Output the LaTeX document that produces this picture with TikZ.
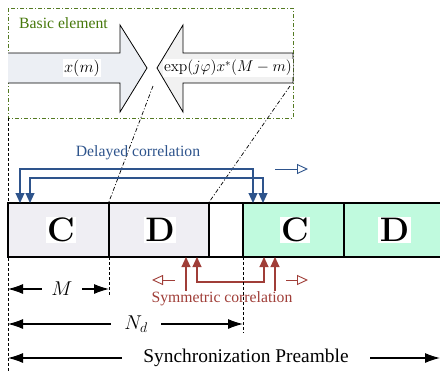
\RequirePackage{fix-cm}
\documentclass[tikz,border=0pt]{standalone}
\usepackage[no-math]{fontspec}
\setmainfont{Liberation Serif}
\usetikzlibrary{arrows.meta}
\definecolor{dblue}{RGB}{46,84,140}
\definecolor{dred}{RGB}{160,62,56}
\definecolor{dgreen}{RGB}{84,122,34}
\definecolor{tgreen}{RGB}{70,120,10}
\definecolor{cfill}{RGB}{239,238,243}
\definecolor{gfill}{RGB}{192,250,222}
\definecolor{afill}{RGB}{236,239,244}
\definecolor{bfill}{RGB}{241,241,241}
\tikzset{
  lbl/.style={font=\fontsize{15.7}{18}\selectfont, inner sep=1pt},
  letter/.style={font=\fontsize{34}{34}\selectfont, fill=white, inner sep=1.5pt},
  dimarrow/.style={line width=1.1pt, {Latex[length=15pt,width=10pt]}-{Latex[length=15pt,width=10pt]}},
  bluearr/.style={dblue, line width=1.1pt, {Triangle[length=10pt,width=9pt]}-{Triangle[length=10pt,width=9pt]}},
  redarr/.style={dred, line width=1.1pt, {Triangle[length=10pt,width=9pt]}-{Triangle[length=10pt,width=9pt]}},
  openarr/.style={line width=0.9pt, -{Triangle[open,length=11pt,width=10pt]}},
  dashdot1/.style={line width=0.7pt, dash pattern=on 4pt off 2pt on 1pt off 2pt},
  vdash/.style={line width=0.7pt, dash pattern=on 3pt off 2pt},
  blk/.style={draw=black, line width=1.1pt}
}
\begin{document}
\begin{tikzpicture}[x=1pt,y=-1pt]
\useasboundingbox (0,0) rectangle (440,375);
% basic element box
\draw[dgreen, dashdot1] (8,8) rectangle (293,118);
\node[lbl, text=tgreen, anchor=west] (be) at (18,23) {Basic element};
% right arrow
\fill[afill] (8,53) -- (120,53) -- (120,25) -- (147,68) -- (120,112) -- (120,83) -- (8,83) -- cycle;
\draw[line width=0.8pt] (8,53) -- (120,53) -- (120,25) -- (147,68) -- (120,112) -- (120,83) -- (8,83);
\node[font=\fontsize{16.5}{18}\selectfont, fill=white, inner sep=1pt] (xm) at (82,68) {$x(m)$};
% left arrow
\draw[line width=0.8pt, fill=bfill] (293,53) -- (183,53) -- (183,25) -- (157,68) -- (183,112) -- (183,83) -- (293,83) -- cycle;
\node[font=\fontsize{15.6}{18}\selectfont, fill=white, inner sep=1pt] (xc) at (228,68) {$\exp(j\varphi)x^{*}(M-m)$};
% blocks
\draw[blk, fill=cfill] (8,203) rectangle (109,257);
\draw[blk, fill=cfill] (109,203) rectangle (209,257);
\draw[blk, fill=white] (209,203) rectangle (243,257);
\draw[blk, fill=gfill] (243,203) rectangle (344,257);
\draw[blk, fill=gfill] (344,203) rectangle (441,257);
\node[letter] (c1) at (61,230) {$\mathbf{C}$};
\node[letter] (d1) at (160,230) {$\mathbf{D}$};
\node[letter] (c2) at (295,230) {$\mathbf{C}$};
\node[letter] (d2) at (394.5,230) {$\mathbf{D}$};
% zoom lines
\coordinate (z1) at (153,86);
\coordinate (z2) at (290,86);
\coordinate (b1) at (108.5,203);
\coordinate (b2) at (208.5,203);
\draw[dashdot1] (z1) -- (b1);
\draw[dashdot1] (z2) -- (b2);
% delayed correlation
\node[lbl, text=dblue] (dc) at (138,153) {Delayed correlation};
\coordinate (da1) at (20,203);
\coordinate (da2) at (253,203);
\coordinate (db1) at (30,203);
\coordinate (db2) at (263,203);
\draw[bluearr] (da1) -- (20,169) -- (253,169) -- (da2);
\draw[bluearr] (db1) -- (30,178) -- (263,178) -- (db2);
\coordinate (bo1) at (275,169);
\coordinate (bo2) at (308,169);
\draw[dblue, openarr] (bo1) -- (bo2);
% symmetric correlation
\coordinate (ra1) at (186,257);
\coordinate (ra2) at (275,257);
\coordinate (rb1) at (197,257);
\coordinate (rb2) at (264,257);
\draw[redarr] (ra1) -- (186,297) -- (275,297) -- (ra2);
\draw[redarr] (rb1) -- (197,282) -- (264,282) -- (rb2);
\node[lbl, text=dred, fill=white] (sc) at (222,299) {Symmetric correlation};
\coordinate (ro1) at (175,280);
\coordinate (ro2) at (152,280);
\coordinate (ro3) at (286,280);
\coordinate (ro4) at (308,280);
\draw[dred, openarr] (ro1) -- (ro2);
\draw[dred, openarr] (ro3) -- (ro4);
% vertical guide lines
\coordinate (g0a) at (8,118);
\coordinate (g0b) at (8,372);
\coordinate (g1a) at (109,257);
\coordinate (g1b) at (109,296);
\coordinate (g2a) at (243,257);
\coordinate (g2b) at (243,333);
\draw[vdash] (g0a) -- (g0b);
\draw[vdash] (g1a) -- (g1b);
\draw[vdash] (g2a) -- (g2b);
% dimensions
\coordinate (m1) at (8,289);
\coordinate (m2) at (109,289);
\draw[dimarrow] (m1) -- (m2);
\node[font=\fontsize{20}{22}\selectfont, fill=white, inner xsep=9pt, inner ysep=0pt] (ml) at (62,289) {$M$};
\coordinate (n1) at (8,324);
\coordinate (n2) at (243,324);
\draw[dimarrow] (n1) -- (n2);
\node[font=\fontsize{20}{22}\selectfont, fill=white, inner xsep=13pt, inner ysep=0pt] (nl) at (136,324) {$N_d$};
\coordinate (s1) at (8,358);
\coordinate (s2) at (440,358);
\draw[dimarrow] (s1) -- (s2);
\node[font=\fontsize{19.4}{22}\selectfont, fill=white, inner xsep=21pt, inner ysep=0pt] (sl) at (246,358) {Synchronization Preamble};
\end{tikzpicture}
\end{document}
